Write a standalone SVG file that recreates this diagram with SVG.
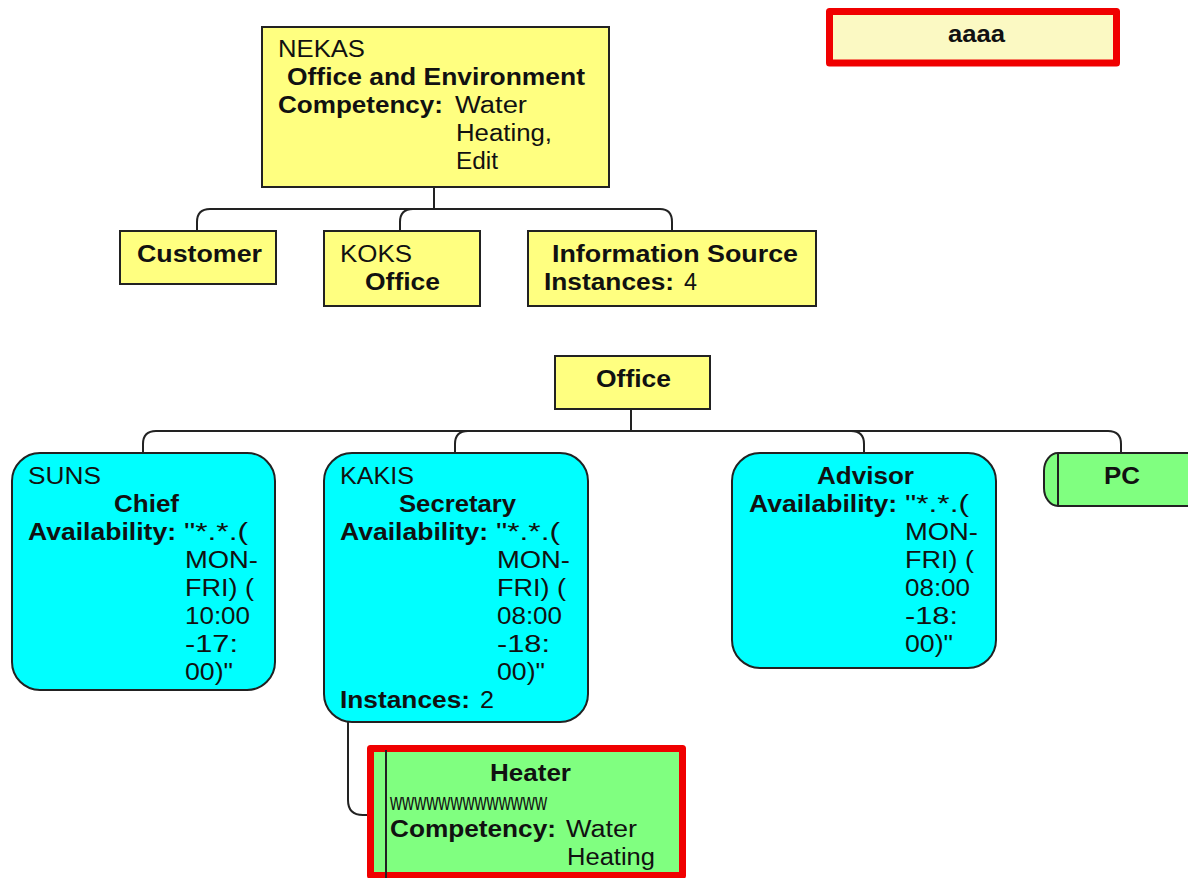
<svg xmlns="http://www.w3.org/2000/svg" width="1188" height="878" viewBox="0 0 1188 878">
<style>
text{font-family:"Liberation Sans",Arial,sans-serif;font-size:23px;fill:#111}
.b{font-weight:bold}
.y{fill:#ffff80;stroke:#222;stroke-width:2}
.c{fill:#00ffff;stroke:#222;stroke-width:2}
.g{fill:#80ff80;stroke:#222;stroke-width:2}
.r{stroke:#f00000;stroke-width:7;stroke-linejoin:round}
.l{fill:none;stroke:#222;stroke-width:2}
</style>
<rect width="1188" height="878" fill="#fff"/>
<g id="connectors">
<path class="l" d="M434 187V209M197 231V222Q197 209 210 209H660Q672 209 672 222V231M400 231V222Q400 209 413 209"/>
<path class="l" d="M631 409V431M143 453V444Q143 431 156 431H1108Q1121 431 1121 444V453M455 453V444Q455 431 468 431M864 453V444Q864 431 851 431"/>
<path class="l" d="M348 722V800Q348 815 363 815H370"/>
</g>
<g id="aaaa"><rect x="829.500" y="11.500" width="287" height="51.500" fill="#fbf9c3" class="r"/><text class="b" x="948" y="42" textLength="57" lengthAdjust="spacingAndGlyphs">aaaa</text></g>
<g id="nekas"><rect class="y" x="262" y="27" width="347" height="160"/>
<text x="278" y="57" textLength="87" lengthAdjust="spacingAndGlyphs">NEKAS</text><text class="b" x="287" y="85" textLength="298" lengthAdjust="spacingAndGlyphs">Office and Environment</text><text class="b" x="278" y="113" textLength="165" lengthAdjust="spacingAndGlyphs">Competency:</text><text x="455" y="113" textLength="72" lengthAdjust="spacingAndGlyphs">Water</text><text x="456" y="141" textLength="96" lengthAdjust="spacingAndGlyphs">Heating,</text><text x="456" y="169" textLength="42" lengthAdjust="spacingAndGlyphs">Edit</text></g>
<g id="customer"><rect class="y" x="120" y="231" width="156" height="53"/><text class="b" x="137" y="262" textLength="125" lengthAdjust="spacingAndGlyphs">Customer</text></g>
<g id="koks"><rect class="y" x="324" y="231" width="156" height="75"/><text x="340" y="262" textLength="72" lengthAdjust="spacingAndGlyphs">KOKS</text><text class="b" x="365" y="290" textLength="75" lengthAdjust="spacingAndGlyphs">Office</text></g>
<g id="source"><rect class="y" x="528" y="231" width="288" height="75"/><text class="b" x="552" y="262" textLength="246" lengthAdjust="spacingAndGlyphs">Information Source</text><text class="b" x="544" y="290" textLength="130" lengthAdjust="spacingAndGlyphs">Instances:</text><text x="684" y="290" textLength="13" lengthAdjust="spacingAndGlyphs">4</text></g>
<g id="office"><rect class="y" x="555" y="356" width="155" height="53"/><text class="b" x="596" y="387" textLength="75" lengthAdjust="spacingAndGlyphs">Office</text></g>
<g id="chief"><rect class="c" x="12" y="453" width="263" height="237" rx="28"/>
<text x="28" y="484" textLength="73" lengthAdjust="spacingAndGlyphs">SUNS</text><text class="b" x="114" y="512" textLength="65" lengthAdjust="spacingAndGlyphs">Chief</text><text class="b" x="28" y="540" textLength="148" lengthAdjust="spacingAndGlyphs">Availability:</text><text x="184" y="540" textLength="64" lengthAdjust="spacingAndGlyphs">"*.*.(</text><text x="185" y="568" textLength="73" lengthAdjust="spacingAndGlyphs">MON-</text><text x="185" y="596" textLength="69" lengthAdjust="spacingAndGlyphs">FRI) (</text><text x="185" y="624" textLength="65" lengthAdjust="spacingAndGlyphs">10:00</text><text x="185" y="652" textLength="53" lengthAdjust="spacingAndGlyphs">-17:</text><text x="185" y="680" textLength="48" lengthAdjust="spacingAndGlyphs">00)"</text></g>
<g id="secretary"><rect class="c" x="324" y="453" width="264" height="269" rx="28"/>
<text x="340" y="484" textLength="74" lengthAdjust="spacingAndGlyphs">KAKIS</text><text class="b" x="399" y="512" textLength="117" lengthAdjust="spacingAndGlyphs">Secretary</text><text class="b" x="340" y="540" textLength="148" lengthAdjust="spacingAndGlyphs">Availability:</text><text x="496" y="540" textLength="64" lengthAdjust="spacingAndGlyphs">"*.*.(</text><text x="497" y="568" textLength="73" lengthAdjust="spacingAndGlyphs">MON-</text><text x="497" y="596" textLength="69" lengthAdjust="spacingAndGlyphs">FRI) (</text><text x="497" y="624" textLength="65" lengthAdjust="spacingAndGlyphs">08:00</text><text x="497" y="652" textLength="53" lengthAdjust="spacingAndGlyphs">-18:</text><text x="497" y="680" textLength="48" lengthAdjust="spacingAndGlyphs">00)"</text><text class="b" x="340" y="708" textLength="130" lengthAdjust="spacingAndGlyphs">Instances:</text><text x="480" y="708" textLength="14" lengthAdjust="spacingAndGlyphs">2</text></g>
<g id="advisor"><rect class="c" x="732" y="453" width="264" height="215" rx="28"/>
<text class="b" x="817" y="484" textLength="97" lengthAdjust="spacingAndGlyphs">Advisor</text><text class="b" x="749" y="512" textLength="148" lengthAdjust="spacingAndGlyphs">Availability:</text><text x="905" y="512" textLength="64" lengthAdjust="spacingAndGlyphs">"*.*.(</text><text x="905" y="540" textLength="73" lengthAdjust="spacingAndGlyphs">MON-</text><text x="905" y="568" textLength="69" lengthAdjust="spacingAndGlyphs">FRI) (</text><text x="905" y="596" textLength="65" lengthAdjust="spacingAndGlyphs">08:00</text><text x="905" y="624" textLength="53" lengthAdjust="spacingAndGlyphs">-18:</text><text x="905" y="652" textLength="48" lengthAdjust="spacingAndGlyphs">00)"</text></g>
<g id="pc"><rect class="g" x="1044" y="453" width="170" height="53" rx="14" ry="18"/><path class="l" d="M1058 453V506"/><text class="b" x="1104" y="484" textLength="36" lengthAdjust="spacingAndGlyphs">PC</text></g>
<g id="heater"><rect x="370.500" y="748.500" width="312" height="127" fill="#80ff80" class="r"/><path class="l" d="M386 750V878"/>
<text class="b" x="490" y="781" textLength="81" lengthAdjust="spacingAndGlyphs">Heater</text><text x="390" y="810" textLength="157" lengthAdjust="spacingAndGlyphs">wwwwwwwwwwwww</text><text class="b" x="390" y="837" textLength="166" lengthAdjust="spacingAndGlyphs">Competency:</text><text x="566" y="837" textLength="71" lengthAdjust="spacingAndGlyphs">Water</text><text x="567" y="865" textLength="88" lengthAdjust="spacingAndGlyphs">Heating</text></g>
</svg>
